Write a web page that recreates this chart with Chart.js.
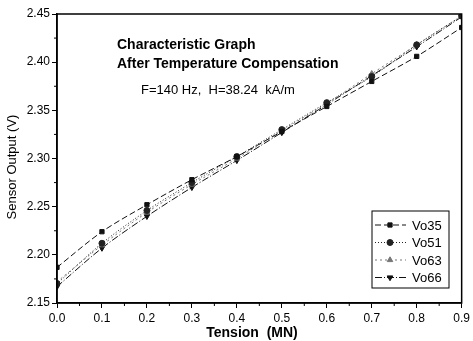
<!DOCTYPE html>
<html>
<head>
<meta charset="utf-8">
<script src="https://cdn.jsdelivr.net/npm/chart.js@4"></script>
<style>
  html, body { margin: 0; padding: 0; background: #fff; }
  #wrap { width: 473px; height: 341px; }
</style>
</head>
<body>
<div id="wrap"><canvas id="chart" width="473" height="341"></canvas></div>
<script>
// values
const tension = [0.0, 0.1, 0.2, 0.3, 0.4, 0.5, 0.6, 0.7, 0.8, 0.9];
const vo35 = [2.187, 2.224, 2.252, 2.278, 2.302, 2.328, 2.354, 2.380, 2.406, 2.436];
const vo51 = [2.170, 2.212, 2.246, 2.275, 2.302, 2.330, 2.358, 2.385, 2.418, 2.448];
const vo63 = [2.172, 2.210, 2.244, 2.273, 2.300, 2.329, 2.357, 2.388, 2.418, 2.448];
const vo66 = [2.167, 2.207, 2.240, 2.270, 2.298, 2.327, 2.356, 2.386, 2.416, 2.447];
const seriesNames = ['Vo35', 'Vo51', 'Vo63', 'Vo66'];
const noteLines = ['Characteristic Graph', 'After Temperature Compensation'];
const noteSub = 'F=140 Hz,  H=38.24  kA/m';
const xTitle = 'Tension  (MN)';
const yTitle = 'Sensor Output (V)';

const FONT = '"Liberation Sans", Arial, sans-serif';

function pts(arr) {
  return tension.map((t, i) => ({ x: t, y: arr[i] }));
}

const styles = [
  { dash: [6, 3], color: '#111', point: 'rect', rot: 0, r: 3 },
  { dash: [1, 2], color: '#222', point: 'circle', rot: 0, r: 3 },
  { dash: [2, 3], color: '#777', point: 'triangle', rot: 0, r: 3.2 },
  { dash: [7, 2, 1, 2], color: '#111', point: 'triangle', rot: 180, r: 3.2 }
];

const datasets = [vo35, vo51, vo63, vo66].map((arr, i) => ({
  label: seriesNames[i],
  data: pts(arr),
  borderColor: styles[i].color,
  backgroundColor: styles[i].color,
  borderWidth: 1,
  borderDash: styles[i].dash,
  pointStyle: styles[i].point,
  rotation: styles[i].rot,
  pointRadius: styles[i].r,
  tension: 0.3,
  fill: false
}));

const extras = {
  id: 'extras',
  afterDraw(chart) {
    const ctx = chart.ctx;
    const a = chart.chartArea;
    const xs = chart.scales.x, ys = chart.scales.y;
    ctx.save();
    // frame
    ctx.strokeStyle = '#000';
    ctx.lineWidth = 1.5;
    ctx.strokeRect(a.left, a.top, a.right - a.left, a.bottom - a.top);
    // minor ticks
    ctx.lineWidth = 1;
    for (let v = 0.05; v < 0.9; v += 0.1) {
      const px = xs.getPixelForValue(v);
      ctx.beginPath(); ctx.moveTo(px, a.bottom); ctx.lineTo(px, a.bottom + 3); ctx.stroke();
    }
    for (let v = 2.175; v < 2.45; v += 0.05) {
      const py = ys.getPixelForValue(v);
      ctx.beginPath(); ctx.moveTo(a.left, py); ctx.lineTo(a.left - 3, py); ctx.stroke();
    }
    // axis titles
    ctx.fillStyle = '#000';
    ctx.textBaseline = 'middle';
    ctx.textAlign = 'center';
    ctx.font = 'bold 14px ' + FONT;
    ctx.fillText(xTitle, 252, 333);
    ctx.save();
    ctx.translate(12, 167);
    ctx.rotate(-Math.PI / 2);
    ctx.font = '13px ' + FONT;
    ctx.fillText(yTitle, 0, 0);
    ctx.restore();
    // annotation text
    ctx.textAlign = 'left';
    ctx.font = 'bold 14px ' + FONT;
    ctx.fillText(noteLines[0], 117, 45);
    ctx.fillText(noteLines[1], 117, 64);
    ctx.font = '13px ' + FONT;
    ctx.fillText(noteSub, 141, 90);
    // legend box
    const lx = 372, ly = 211, lw = 77, lh = 77;
    ctx.fillStyle = '#fff';
    ctx.fillRect(lx, ly, lw, lh);
    ctx.lineWidth = 1;
    ctx.strokeStyle = '#000';
    ctx.strokeRect(lx, ly, lw, lh);
    chart.data.datasets.forEach((ds, i) => {
      const yy = ly + 14 + i * 17.5;
      ctx.strokeStyle = ds.borderColor;
      ctx.fillStyle = ds.backgroundColor;
      ctx.setLineDash(ds.borderDash);
      ctx.beginPath(); ctx.moveTo(lx + 3, yy); ctx.lineTo(lx + 34, yy); ctx.stroke();
      ctx.setLineDash([]);
      Chart.helpers.drawPoint(ctx, {
        pointStyle: ds.pointStyle, rotation: ds.rotation, radius: ds.pointRadius, borderWidth: 1
      }, lx + 18, yy);
      ctx.fillStyle = '#000';
      ctx.font = '13px ' + FONT;
      ctx.textAlign = 'left';
      ctx.fillText(ds.label, lx + 40, yy + 1);
    });
    ctx.restore();
  }
};

new Chart(document.getElementById('chart'), {
  type: 'line',
  data: { datasets },
  options: {
    responsive: false,
    animation: false,
    layout: { padding: { top: 14, right: 7, left: 0, bottom: 0 } },
    plugins: { legend: { display: false }, tooltip: { enabled: false } },
    scales: {
      x: {
        type: 'linear',
        min: 0, max: 0.9,
        afterFit(s) { s.height = 38; },
        ticks: {
          stepSize: 0.1,
          color: '#000',
          font: { family: FONT, size: 12 },
          padding: 3,
          callback: v => v.toFixed(1)
        },
        grid: { drawOnChartArea: false, drawTicks: true, tickLength: 5, color: '#000' },
        border: { color: '#000', width: 1.5 }
      },
      y: {
        min: 2.15, max: 2.45,
        afterFit(s) { s.width = 57; },
        ticks: {
          stepSize: 0.05,
          color: '#000',
          font: { family: FONT, size: 12 },
          padding: 2,
          callback: v => v.toFixed(2)
        },
        grid: { drawOnChartArea: false, drawTicks: true, tickLength: 5, color: '#000' },
        border: { color: '#000', width: 1.5 }
      }
    }
  },
  plugins: [extras]
});
</script>
</body>
</html>
